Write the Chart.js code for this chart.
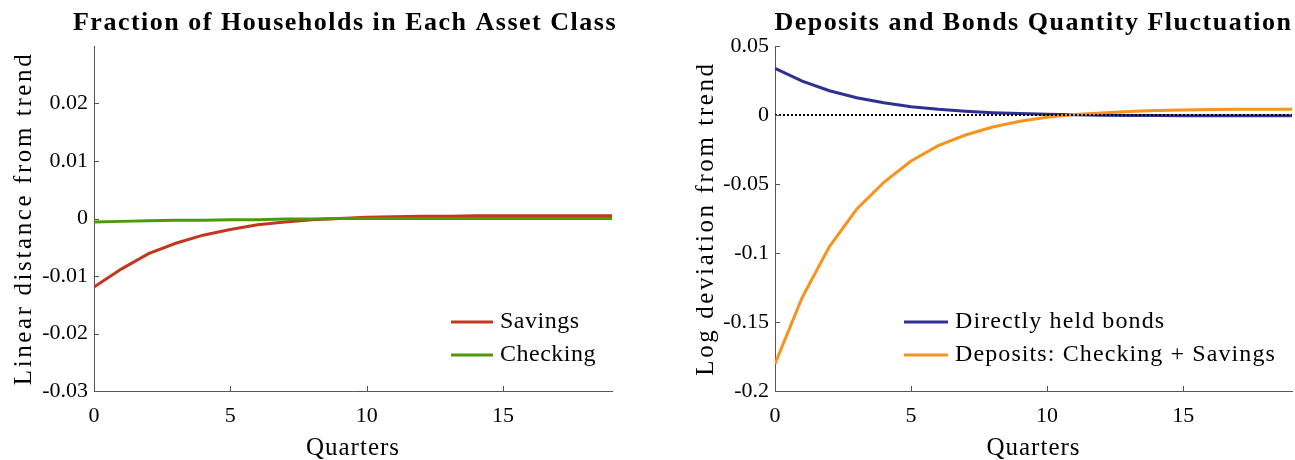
<!DOCTYPE html>
<html>
<head>
<meta charset="utf-8">
<script src="https://cdn.jsdelivr.net/npm/chart.js@4.4.0/dist/chart.umd.min.js"></script>
<style>
  html, body { margin: 0; padding: 0; background: #fff; }
  body { width: 1295px; height: 460px; position: relative; overflow: hidden; }
  .box { position: absolute; top: 0; height: 460px; }
  #left { left: 0; width: 640px; }
  #right { left: 650px; width: 645px; }
</style>
</head>
<body>
<div class="box" id="left"><canvas id="c1"></canvas></div>
<div class="box" id="right"><canvas id="c2"></canvas></div>
<script>
// data
const quarters = [0, 1, 2, 3, 4, 5, 6, 7, 8, 9, 10, 11, 12, 13, 14, 15, 16, 17, 18, 19];

const savings = [-0.0119, -0.0088, -0.0061, -0.0043, -0.0029, -0.0019, -0.0011, -0.0006, -0.0002, 0.0000,
                 0.0002, 0.0003, 0.0004, 0.0004, 0.0005, 0.0005, 0.0005, 0.0005, 0.0005, 0.0005];
const checking = [-0.0006, -0.0005, -0.0004, -0.0003, -0.0003, -0.0002, -0.0002, -0.0001, -0.0001, 0.0000,
                  0.0000, 0.0000, 0.0000, 0.0000, 0.0000, 0.0000, 0.0000, 0.0000, 0.0000, 0.0000];

const bonds = [0.0338, 0.0246, 0.0176, 0.0125, 0.0089, 0.0060, 0.0041, 0.0027, 0.0017, 0.0010,
               0.0005, 0.0001, -0.0002, -0.0003, -0.0004, -0.0005, -0.0005, -0.0006, -0.0006, -0.0006];
const deposits = [-0.1804, -0.1322, -0.0954, -0.0683, -0.0488, -0.0333, -0.0222, -0.0145, -0.0087, -0.0046,
                  -0.0017, 0.0003, 0.0015, 0.0025, 0.0032, 0.0037, 0.0040, 0.0041, 0.0042, 0.0042];
const zeroLine = quarters.map(() => 0);

const leftTitle = 'Fraction of Households in Each Asset Class';
const rightTitle = 'Deposits and Bonds Quantity Fluctuation';
const leftLabels = ['Savings', 'Checking'];
const rightLabels = ['Directly held bonds', 'Deposits: Checking + Savings'];
const xTitle = 'Quarters';

const SERIF = "'Liberation Serif', 'DejaVu Serif', serif";
const AXIS = '#555555';

const toXY = (ys) => ys.map((y, i) => ({ x: quarters[i], y: y }));
const fmt = (v) => String(Math.round(v * 100) / 100);

// inward ticks, titles, axis titles, legend in lower right corner
const decor = {
  id: 'decor',
  afterDraw(chart, args, opts) {
    const { ctx, chartArea: a, scales } = chart;
    ctx.save();
    ctx.strokeStyle = AXIS;
    ctx.lineWidth = 1;
    scales.x.ticks.forEach(t => {
      if (t.value === 0 || t.label === '') return;
      const px = Math.round(scales.x.getPixelForValue(t.value)) + 0.5;
      ctx.beginPath(); ctx.moveTo(px, a.bottom); ctx.lineTo(px, a.bottom - 5); ctx.stroke();
    });
    scales.y.ticks.forEach(t => {
      if (t.label === '') return;
      const py = Math.round(scales.y.getPixelForValue(t.value)) + 0.5;
      ctx.beginPath(); ctx.moveTo(a.left, py); ctx.lineTo(a.left + 5, py); ctx.stroke();
    });

    const cx = (a.left + a.right) / 2;
    ctx.fillStyle = '#000';
    ctx.textAlign = 'center';
    ctx.textBaseline = 'alphabetic';

    // plot title
    ctx.font = 'bold 26px ' + SERIF;
    ctx.letterSpacing = '1.5px';
    ctx.fillText(opts.title, cx + opts.titleDx, 30);

    // x title
    ctx.font = '25px ' + SERIF;
    ctx.letterSpacing = '1px';
    ctx.fillText(xTitle, cx, 455);

    // y title
    ctx.letterSpacing = '2.6px';
    ctx.save();
    ctx.translate(opts.yTitleX, (a.top + a.bottom) / 2);
    ctx.rotate(-Math.PI / 2);
    ctx.textBaseline = 'middle';
    ctx.fillText(opts.ytitle, 0, 0);
    ctx.restore();

    // legend
    ctx.font = '24px ' + SERIF;
    ctx.letterSpacing = opts.legendSpacing;
    ctx.textAlign = 'left';
    ctx.textBaseline = 'middle';
    const w = Math.max(...opts.labels.map(s => ctx.measureText(s).width));
    const x0 = a.right - 16 - w - 7 - opts.lineLen;
    opts.labels.forEach((s, i) => {
      const y = a.bottom - 69 + i * 33;
      ctx.strokeStyle = opts.colors[i];
      ctx.lineWidth = 3;
      ctx.beginPath(); ctx.moveTo(x0, y); ctx.lineTo(x0 + opts.lineLen, y); ctx.stroke();
      ctx.fillText(s, x0 + opts.lineLen + 7, y);
    });
    ctx.letterSpacing = '0px';
    ctx.restore();
  }
};

function makeOptions(cfg) {
  return {
    responsive: true,
    maintainAspectRatio: false,
    animation: false,
    layout: { padding: { top: 46, right: cfg.padRight, left: 0, bottom: 0 } },
    plugins: {
      legend: { display: false },
      tooltip: { enabled: false },
      decor: cfg.decor
    },
    scales: {
      x: {
        type: 'linear',
        min: 0, max: 19,
        grid: { display: false, drawTicks: false },
        border: { display: true, color: AXIS, width: 1 },
        ticks: {
          stepSize: 5, padding: 12, color: '#000', font: { family: SERIF, size: 22 },
          callback: (v) => (v % 5 === 0) ? String(v) : ''
        },
        afterFit: (s) => { s.height = cfg.xHeight; s.paddingRight = 0; s.paddingLeft = 0; }
      },
      y: {
        min: cfg.ymin, max: cfg.ymax,
        grid: { display: false, drawTicks: false },
        border: { display: true, color: AXIS, width: 1 },
        ticks: {
          stepSize: cfg.step, padding: 6, color: '#000', font: { family: SERIF, size: 22 },
          callback: (v) => (cfg.hideTop && Math.abs(v - cfg.ymax) < 1e-9) ? '' : fmt(v)
        },
        afterFit: (s) => { s.width = cfg.yWidth; s.paddingTop = 0; s.paddingBottom = 0; }
      }
    }
  };
}

const lineDefaults = { borderWidth: 3, pointRadius: 0, tension: 0, fill: false };

new Chart(document.getElementById('c1'), {
  type: 'line',
  data: {
    datasets: [
      { ...lineDefaults, label: leftLabels[0], data: toXY(savings), borderColor: '#C0391F', order: 2 },
      { ...lineDefaults, label: leftLabels[1], data: toXY(checking), borderColor: '#4C9A08', order: 1 }
    ]
  },
  options: makeOptions({
    padRight: 28, xHeight: 69, yWidth: 94, ymin: -0.03, ymax: 0.03, step: 0.01, hideTop: true,
    decor: { title: leftTitle, titleDx: -8, ytitle: 'Linear distance from trend', yTitleX: 24,
             labels: leftLabels, colors: ['#C0391F', '#4C9A08'], lineLen: 42, legendSpacing: '0.5px' }
  }),
  plugins: [decor]
});

new Chart(document.getElementById('c2'), {
  type: 'line',
  data: {
    datasets: [
      { ...lineDefaults, label: rightLabels[0], data: toXY(bonds), borderColor: '#2E3192', order: 2 },
      { ...lineDefaults, label: rightLabels[1], data: toXY(deposits), borderColor: '#F7931E', order: 1 },
      { label: 'zero', data: toXY(zeroLine), borderColor: '#000', borderWidth: 2, borderDash: [2, 2], pointRadius: 0, fill: false, order: 0 }
    ]
  },
  options: makeOptions({
    padRight: 3, xHeight: 69, yWidth: 125, ymin: -0.2, ymax: 0.05, step: 0.05, hideTop: false,
    decor: { title: rightTitle, titleDx: 0, ytitle: 'Log deviation from trend', yTitleX: 56,
             labels: rightLabels, colors: ['#2E3192', '#F7931E'], lineLen: 44, legendSpacing: '1.1px' }
  }),
  plugins: [decor]
});
</script>
</body>
</html>
